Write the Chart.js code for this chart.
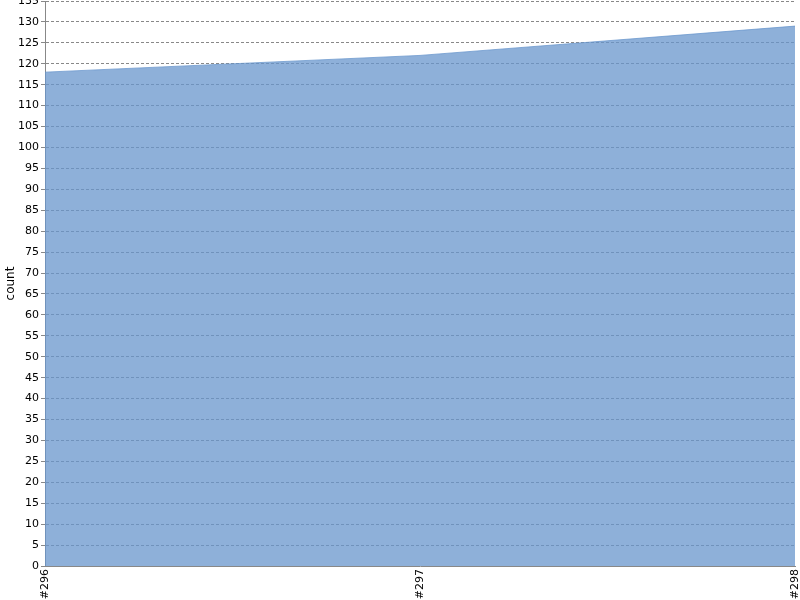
<!DOCTYPE html>
<html lang="en">
<head>
    <meta charset="UTF-8">
    <title>count</title>
    <script src="https://cdn.jsdelivr.net/npm/chart.js"></script>
    <style>
        body { margin: 0; background: #fff; }
        #wrap { width: 800px; height: 600px; }
    </style>
</head>
<body>
    <div id="wrap"><canvas id="chart"></canvas></div>
    <script>
        const labels = ["#296", "#297", "#298"];
        const counts = [118, 122, 129];
        const yMin = 0, yMax = 135, yStep = 5;

        Chart.defaults.font.family = "'DejaVu Sans', sans-serif";
        Chart.defaults.color = "#000";

        new Chart(document.getElementById("chart").getContext("2d"), {
            type: "line",
            data: {
                labels: labels,
                datasets: [{
                    label: "count",
                    data: counts,
                    fill: "origin",
                    // semi-transparent so the dashed grid shows through
                    backgroundColor: "rgba(104,150,204,0.75)",
                    borderColor: "rgba(104,150,204,0.75)",
                    borderWidth: 1,
                    pointRadius: 0,
                    tension: 0
                }]
            },
            options: {
                responsive: true,
                maintainAspectRatio: false,
                animation: false,
                layout: { padding: { top: 1, right: 5, left: 0, bottom: 0 } },
                plugins: { legend: { display: false }, tooltip: { enabled: false } },
                scales: {
                    x: {
                        offset: false,
                        grid: { display: false, drawTicks: false },
                        border: { display: true, color: "#888", width: 1 },
                        ticks: { maxRotation: 90, minRotation: 90, padding: 3, font: { size: 11 } },
                        afterFit: s => { s.height = 34; s.paddingLeft = 0; s.paddingRight = 0; }
                    },
                    y: {
                        min: yMin,
                        max: yMax,
                        grid: { color: "#888", drawTicks: true, tickLength: 4, tickColor: "#888", tickBorderDash: [] },
                        border: { display: true, color: "#888", width: 1, dash: [3, 2] },
                        ticks: { stepSize: yStep, padding: 2, font: { size: 11 } },
                        title: { display: true, text: "count", font: { size: 12 }, padding: { top: 4, bottom: 0 } },
                        afterFit: s => { s.width = 45; s.paddingTop = 0; s.paddingBottom = 0; }
                    }
                }
            }
        });
    </script>
</body>
</html>
